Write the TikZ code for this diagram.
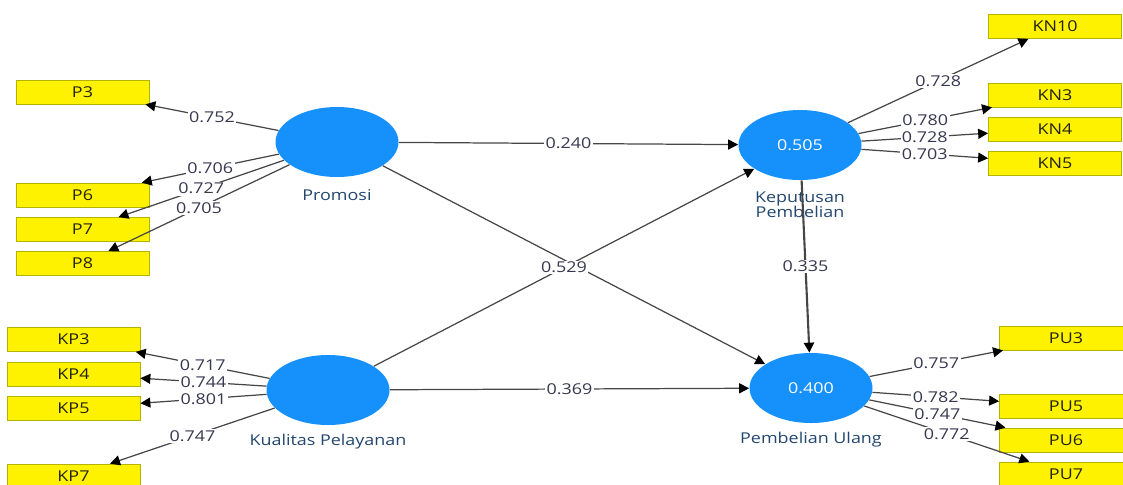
\documentclass[tikz,border=0pt]{standalone}
\usepackage{fontspec}
\setsansfont{Open Sans}[FakeStretch=1.2]
\usetikzlibrary{arrows.meta,shapes.geometric}
\definecolor{lvblue}{RGB}{22,144,250}
\definecolor{boxedge}{RGB}{180,180,0}
\definecolor{boxtext}{RGB}{35,35,10}
\definecolor{valtext}{RGB}{55,55,80}
\definecolor{nametext}{RGB}{35,70,110}
\definecolor{linegray}{RGB}{70,70,70}

\begin{document}
\begin{tikzpicture}[x=0.2mm, y=-0.2mm, font=\sffamily\fontsize{8.5}{8.5}\selectfont,
    lv/.style={ellipse, fill=lvblue, minimum width=24.6mm, minimum height=14mm, inner sep=0pt, text=white},
    mv/.style={rectangle, fill=yellow, draw=boxedge, minimum width=26.6mm, minimum height=4.8mm, inner sep=0pt, text=boxtext},
    lvname/.style={align=center, inner sep=0pt, text=nametext},
    ld/.style={draw=linegray, line width=0.7pt, -{Triangle[length=2mm, width=2mm, color=black]}},
    val/.style={midway, fill=white, inner sep=0.8pt, text=valtext}]
    \useasboundingbox (0,0) rectangle (1123,484);
    \node[lv] (pro) at (337,142) {};
    \node[lv] (kep) at (800,145) {0.505};
    \node[lv] (kua) at (328,390) {};
    \node[lv] (pu) at (811,388) {0.400};
    \node[lvname] (proname) at (337,195) {Promosi};
    \node[lvname] (kepname) at (800,205) {Keputusan\\Pembelian};
    \node[lvname] (kuaname) at (328,442) {Kualitas Pelayanan};
    \node[lvname] (puname) at (811,440) {Pembelian Ulang};
    \node[mv] (p3) at (82.5,92) {P3};
    \node[mv] (p6) at (82.5,195) {P6};
    \node[mv] (p7) at (82.5,229.5) {P7};
    \node[mv] (p8) at (82.5,263.5) {P8};
    \node[mv] (kn10) at (1055,26.5) {KN10};
    \node[mv] (kn3) at (1055,95) {KN3};
    \node[mv] (kn4) at (1055,129) {KN4};
    \node[mv] (kn5) at (1055,163) {KN5};
    \node[mv] (kp3) at (73.5,339.5) {KP3};
    \node[mv] (kp4) at (73.5,374) {KP4};
    \node[mv] (kp5) at (73.5,408) {KP5};
    \node[mv] (kp7) at (73.5,476) {KP7};
    \node[mv] (pu3) at (1066,338) {PU3};
    \node[mv] (pu5) at (1066,406) {PU5};
    \node[mv] (pu6) at (1066,440) {PU6};
    \node[mv] (pu7) at (1066,474) {PU7};
        \draw[ld] (pro) -- (p3) node[val] {0.752};
        \draw[ld] (pro) -- (p6) node[val] {0.706};
        \draw[ld] (pro) -- (p7) node[val] {0.727};
        \draw[ld] (pro) -- (p8) node[val] {0.705};
        \draw[ld] (kep) -- (kn10) node[val] {0.728};
        \draw[ld] (kep) -- (kn3) node[val] {0.780};
        \draw[ld] (kep) -- (kn4) node[val] {0.728};
        \draw[ld] (kep) -- (kn5) node[val] {0.703};
        \draw[ld] (kua) -- (kp3) node[val] {0.717};
        \draw[ld] (kua) -- (kp4) node[val] {0.744};
        \draw[ld] (kua) -- (kp5) node[val] {0.801};
        \draw[ld] (kua) -- (kp7) node[val] {0.747};
        \draw[ld] (pu) -- (pu3) node[val] {0.757};
        \draw[ld] (pu) -- (pu5) node[val] {0.782};
        \draw[ld] (pu) -- (pu6) node[val] {0.747};
        \draw[ld] (pu) -- (pu7) node[val] {0.772};
        \draw[ld] (pro) -- (kep) node[val] {0.240};
        \draw[ld] (pro) -- (pu);
        \draw[ld] (kua) -- (kep) node[val] {0.529};
        \draw[ld] (kua) -- (pu) node[val] {0.369};
        \draw[ld, line width=1.2pt] (kep) -- (pu) node[val] {0.335};
\end{tikzpicture}
\end{document}
